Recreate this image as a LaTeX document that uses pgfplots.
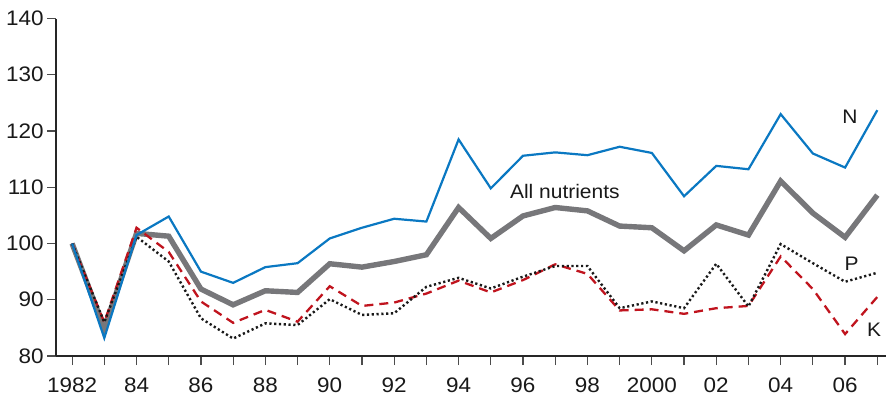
\documentclass[border=0pt]{standalone}
\usepackage{fontspec}
\setmainfont{Liberation Sans}[FakeStretch=1.07]
\usepackage{pgfplots}
\pgfplotsset{compat=1.18}
\definecolor{nblue}{HTML}{0A78C2}
\definecolor{agray}{HTML}{77777A}
\definecolor{kred}{HTML}{C0141E}
\begin{document}
\begin{tikzpicture}
\begin{axis}[
  name=ax,
  scale only axis,
  width=415pt, height=168.75pt,
  xmin=1981.5, xmax=2007.27,
  ymin=80, ymax=140,
  axis x line=bottom, axis y line=left,
  axis line style={-, line width=0.8pt, color=black!85},
  tick align=outside,
  major tick length=4.5pt,
  tick style={line width=0.6pt, color=black!70},
  xtick={1982,...,2007},
  xticklabels={1982,,84,,86,,88,,90,,92,,94,,96,,98,,2000,,02,,04,,06,},
  ytick={80,90,...,140},
  /pgf/number format/assume math mode=true,
  ticklabel style={font=\fontsize{10.5}{12}\selectfont, color=black!90},
  yticklabel style={inner xsep=1.5pt},
  xticklabel style={yshift=-3pt},
  clip=false,
]
\addplot[agray, line width=2.7pt, line join=miter] coordinates {
(1982,100) (1983,84.9) (1984,101.8) (1985,101.3) (1986,91.9) (1987,89.1)
(1988,91.6) (1989,91.3) (1990,96.4) (1991,95.8) (1992,96.8) (1993,98.0)
(1994,106.4) (1995,100.9) (1996,104.9) (1997,106.4) (1998,105.8) (1999,103.1)
(2000,102.8) (2001,98.7) (2002,103.3) (2003,101.5) (2004,111.1) (2005,105.4)
(2006,101.1) (2007,108.6)};
\addplot[kred, line width=1.15pt, dash pattern=on 4.5pt off 3pt] coordinates {
(1982,100) (1983,86) (1984,102.8) (1985,98.5) (1986,89.7) (1987,85.9)
(1988,88.2) (1989,86.1) (1990,92.4) (1991,88.9) (1992,89.5) (1993,91.1)
(1994,93.4) (1995,91.3) (1996,93.5) (1997,96.3) (1998,94.6) (1999,88.1)
(2000,88.3) (2001,87.5) (2002,88.5) (2003,88.9) (2004,97.7) (2005,91.9)
(2006,83.9) (2007,90.5)};
\addplot[black!90, line width=1.2pt, dash pattern=on 1.1pt off 1.3pt] coordinates {
(1982,100) (1983,86) (1984,101.2) (1985,96.8) (1986,86.7) (1987,83.1)
(1988,85.8) (1989,85.5) (1990,90.1) (1991,87.3) (1992,87.6) (1993,92.3)
(1994,93.9) (1995,92.0) (1996,94.1) (1997,96.0) (1998,96.0) (1999,88.5)
(2000,89.7) (2001,88.5) (2002,96.4) (2003,88.8) (2004,99.9) (2005,96.5)
(2006,93.2) (2007,94.8)};
\addplot[nblue, line width=1.1pt] coordinates {
(1982,100) (1983,83.2) (1984,101.5) (1985,104.8) (1986,95.0) (1987,93.0)
(1988,95.8) (1989,96.5) (1990,100.9) (1991,102.8) (1992,104.4) (1993,103.9)
(1994,118.5) (1995,109.8) (1996,115.6) (1997,116.2) (1998,115.7) (1999,117.2)
(2000,116.1) (2001,108.4) (2002,113.8) (2003,113.2) (2004,123.0) (2005,116.0)
(2006,113.5) (2007,123.7)};
\node[font=\fontsize{9.8}{12}\selectfont, text=black!90] at (axis cs:2006.15,122.5) {N};
\node[font=\fontsize{9.8}{12}\selectfont, text=black!90] at (axis cs:1997.3,109.2) {All nutrients};
\node[font=\fontsize{9.8}{12}\selectfont, text=black!90] at (axis cs:2006.2,96.4) {P};
\node[font=\fontsize{9.8}{12}\selectfont, text=black!90] at (axis cs:2006.9,84.7) {K};
\end{axis}
\pgfresetboundingbox
\path[use as bounding box] ([xshift=-28pt,yshift=-21pt]ax.south west) rectangle ([yshift=9.25pt]ax.north east);
\end{tikzpicture}
\end{document}
